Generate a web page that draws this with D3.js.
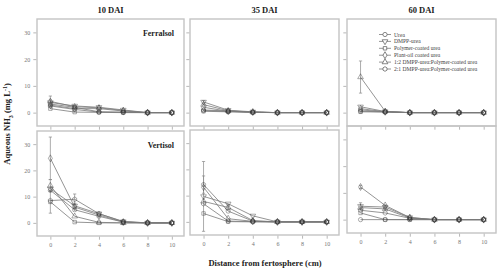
<!DOCTYPE html>
<html><head><meta charset="utf-8">
<script src="https://cdn.jsdelivr.net/npm/d3@7"></script>
<style>body{margin:0;background:#fff}svg{display:block}</style>
</head><body>
<svg id="c" width="500" height="270"></svg>
<script>
// ---------- data ----------
const distances = [0, 2, 4, 6, 8, 10];
const xTicks = [0, 2, 4, 6, 8, 10];
const yTicks = [0, 10, 20, 30];
const seriesNames = ["Urea", "DMPP-urea", "Polymer-coated urea", "Plant-oil coated urea",
  "1:2 DMPP-urea:Polymer-coated urea", "2:1 DMPP-urea:Polymer-coated urea"];
const colTitles = ["10 DAI", "35 DAI", "60 DAI"];
const soils = ["Ferralsol", "Vertisol"];
// values per series (order of seriesNames), per distance
const ferr10 = [[3.2,2.0,0.3,0.2,0,0],[3.8,2.5,2.0,1.0,0,0],[1.5,0.2,0.1,0,0,0],[2.8,1.5,1.5,0.6,0,0],[4.2,2.2,1.8,0.8,0,0],[2.5,1.2,0.2,0.1,0,0]];
const ferr35 = [[1.0,0.6,0.2,0,0,0],[4.0,0.9,0.3,0,0,0],[0.5,0.3,0.1,0,0,0],[2.0,0.5,0.2,0,0,0],[3.0,0.7,0.2,0,0,0],[0.8,0.4,0.1,0,0,0]];
const ferr60 = [[0.5,0.3,0,0,0,0],[2.2,0.4,0,0,0,0],[0.3,0.2,0,0,0,0],[1.5,0.3,0,0,0,0],[13.3,0.5,0,0,0,0],[1.0,0.3,0,0,0,0]];
const vert10 = [[12.4,5.0,2.5,0.3,0,0],[13.0,6.5,3.5,0.5,0,0],[8.0,0.3,0,0,0,0],[24.6,6.0,3.0,0.3,0,0],[14.2,2.5,0.2,0,0,0],[8.5,9.0,3.5,0.5,0,0]];
const vert35 = [[14.2,4.1,0.3,0,0,0],[9.7,6.9,2.3,0,0,0],[3.2,0.1,0,0,0,0],[13.2,1.2,0.2,0,0,0],[7.8,5.5,0.5,0,0,0],[6.9,0.3,0.1,0,0,0]];
const vert60 = [[0,0,0,0,0,0],[5.0,4.7,0.8,0,0,0],[2.5,0,0,0,0,0],[12.2,5.3,0.8,0,0,0],[4.5,4.0,0.6,0,0,0],[3.5,2.5,0.5,0,0,0]];
// error bars: [seriesIndex, distanceIndex, sd]
const errFerr10 = [[4,0,2.0],[1,0,1.0]];
const errFerr35 = [[1,0,0.5]];
const errFerr60 = [[4,0,6.0]];
const errVert10 = [[3,0,8.1],[4,0,2.3],[2,0,4.3],[5,1,2.0],[1,1,1.0]];
const errVert35 = [[1,0,13.3],[0,0,3.3],[4,1,1.0]];
const errVert60 = [[3,0,0.6],[1,0,1.3],[1,1,0.8]];

// ---------- layout ----------
const svg = d3.select("#c");
const serif = "'Liberation Serif','Times New Roman',serif";
const panels = [
  {r:0,c:0,x0:37,x1:184,y0:19,y1:126,data:ferr10,err:errFerr10},
  {r:0,c:1,x0:190,x1:339,y0:19,y1:126,data:ferr35,err:errFerr35},
  {r:0,c:2,x0:347,x1:496,y0:19,y1:126,data:ferr60,err:errFerr60},
  {r:1,c:0,x0:37,x1:184,y0:131,y1:236,data:vert10,err:errVert10},
  {r:1,c:1,x0:190,x1:339,y0:130,y1:235,data:vert35,err:errVert35},
  {r:1,c:2,x0:347,x1:496,y0:126,y1:233,data:vert60,err:errVert60}
];

const hexagon = {draw(ctx, size){
  const r = Math.sqrt(size/2.6);
  for(let i=0;i<6;i++){const a=Math.PI/6+i*Math.PI/3;const px=r*Math.cos(a),py=r*Math.sin(a);
    if(i===0)ctx.moveTo(px,py);else ctx.lineTo(px,py);}
  ctx.closePath();}};
const symbols = [
  {type:d3.symbolCircle,rot:0,size:14},
  {type:d3.symbolTriangle,rot:180,size:14},
  {type:d3.symbolSquare,rot:0,size:12},
  {type:d3.symbolDiamond,rot:0,size:14},
  {type:d3.symbolTriangle,rot:0,size:14},
  {type:hexagon,rot:0,size:14}
];
const lineCol = "#7a7a7a", markCol = "#333";

panels.forEach(p=>{
  const x = d3.scaleLinear().domain([-1.1,11]).range([p.x0,p.x1]);
  const y = d3.scaleLinear().domain([-5,35]).range([p.y1,p.y0]);
  const g = svg.append("g");
  // frame
  g.append("rect").attr("x",p.x0).attr("y",p.y0).attr("width",p.x1-p.x0).attr("height",p.y1-p.y0)
    .attr("fill","none").attr("stroke","#c4c4c4").attr("stroke-width",1.4);
  // axes
  const ya = d3.axisLeft(y).tickValues(yTicks).tickSize(3).tickPadding(3)
    .tickFormat(p.c===0?d3.format("d"):()=> "");
  const yg = g.append("g").attr("transform",`translate(${p.x0-0.7},0)`).call(ya);
  const xa = d3.axisBottom(x).tickValues(xTicks).tickSize(3).tickPadding(3)
    .tickFormat(p.r===1?d3.format("d"):()=> "");
  const xg = g.append("g").attr("transform",`translate(0,${p.y1+0.7})`).call(xa);
  [yg,xg].forEach(a=>{a.select(".domain").remove();
    a.selectAll(".tick line").attr("stroke","#999").attr("stroke-width",0.7);
    a.selectAll("text").attr("fill","#777").style("font-family",serif).style("font-size","6px");});
  // error bars
  p.err.forEach(([s,i,sd])=>{
    const v = p.data[s][i], cx = x(distances[i]);
    g.append("line").attr("x1",cx).attr("x2",cx).attr("y1",y(v-sd)).attr("y2",y(v+sd))
      .attr("stroke","#888").attr("stroke-width",0.7);
    [v-sd,v+sd].forEach(e=>g.append("line").attr("x1",cx-1.6).attr("x2",cx+1.6).attr("y1",y(e)).attr("y2",y(e))
      .attr("stroke","#888").attr("stroke-width",0.7));
  });
  // lines
  const line = d3.line().x((d,i)=>x(distances[i])).y(d=>y(d));
  p.data.forEach((vals,s)=>{
    g.append("path").attr("d",line(vals)).attr("fill","none").attr("stroke",lineCol).attr("stroke-width",0.8);
  });
  // markers
  p.data.forEach((vals,s)=>{
    const sym = symbols[s];
    vals.forEach((v,i)=>{
      g.append("path").attr("d",d3.symbol().type(sym.type).size(sym.size)())
        .attr("transform",`translate(${x(distances[i])},${y(v)}) rotate(${sym.rot})`)
        .attr("fill","none").attr("stroke",markCol).attr("stroke-opacity",0.45).attr("stroke-width",0.9);
    });
  });
  // soil label
  if(p.c===0){
    g.append("text").attr("x",p.x1-10).attr("y",p.y0+17).attr("text-anchor","end")
      .style("font-family",serif).style("font-size","8px").style("font-weight","bold").attr("fill","#222")
      .text(soils[p.r]);
  }
  if(p.r===0){
    g.append("text").attr("x",(p.x0+p.x1)/2).attr("y",12.5).attr("text-anchor","middle")
      .style("font-family",serif).style("font-size","8.5px").style("font-weight","bold").attr("fill","#222")
      .text(colTitles[p.c]);
  }
});

// legend
const lg = svg.append("g");
seriesNames.forEach((n,i)=>{
  const yy = 34.5 + i*6.9;
  lg.append("line").attr("x1",379).attr("x2",391).attr("y1",yy).attr("y2",yy).attr("stroke","#666").attr("stroke-width",0.7);
  const sym = symbols[i];
  lg.append("path").attr("d",d3.symbol().type(sym.type).size(sym.size)())
    .attr("transform",`translate(385,${yy}) rotate(${sym.rot})`).attr("fill","#fff").attr("stroke","#555").attr("stroke-width",0.7);
  lg.append("text").attr("x",394).attr("y",yy+2).style("font-family",serif).style("font-size","5.6px")
    .attr("fill","#444").text(n);
});

// axis titles
svg.append("text").attr("x",265).attr("y",265.5).attr("text-anchor","middle")
  .style("font-family",serif).style("font-size","8.5px").style("font-weight","bold").attr("fill","#222")
  .text("Distance from fertosphere (cm)");
const yt = svg.append("text").attr("transform","translate(10,124) rotate(-90)").attr("text-anchor","middle")
  .style("font-family",serif).style("font-size","8.5px").style("font-weight","bold").attr("fill","#222");
yt.append("tspan").text("Aqueous NH");
yt.append("tspan").attr("baseline-shift","sub").style("font-size","6px").text("3");
yt.append("tspan").text(" (mg L");
yt.append("tspan").attr("baseline-shift","super").style("font-size","6px").text("-1");
yt.append("tspan").text(")");
</script>
</body></html>
